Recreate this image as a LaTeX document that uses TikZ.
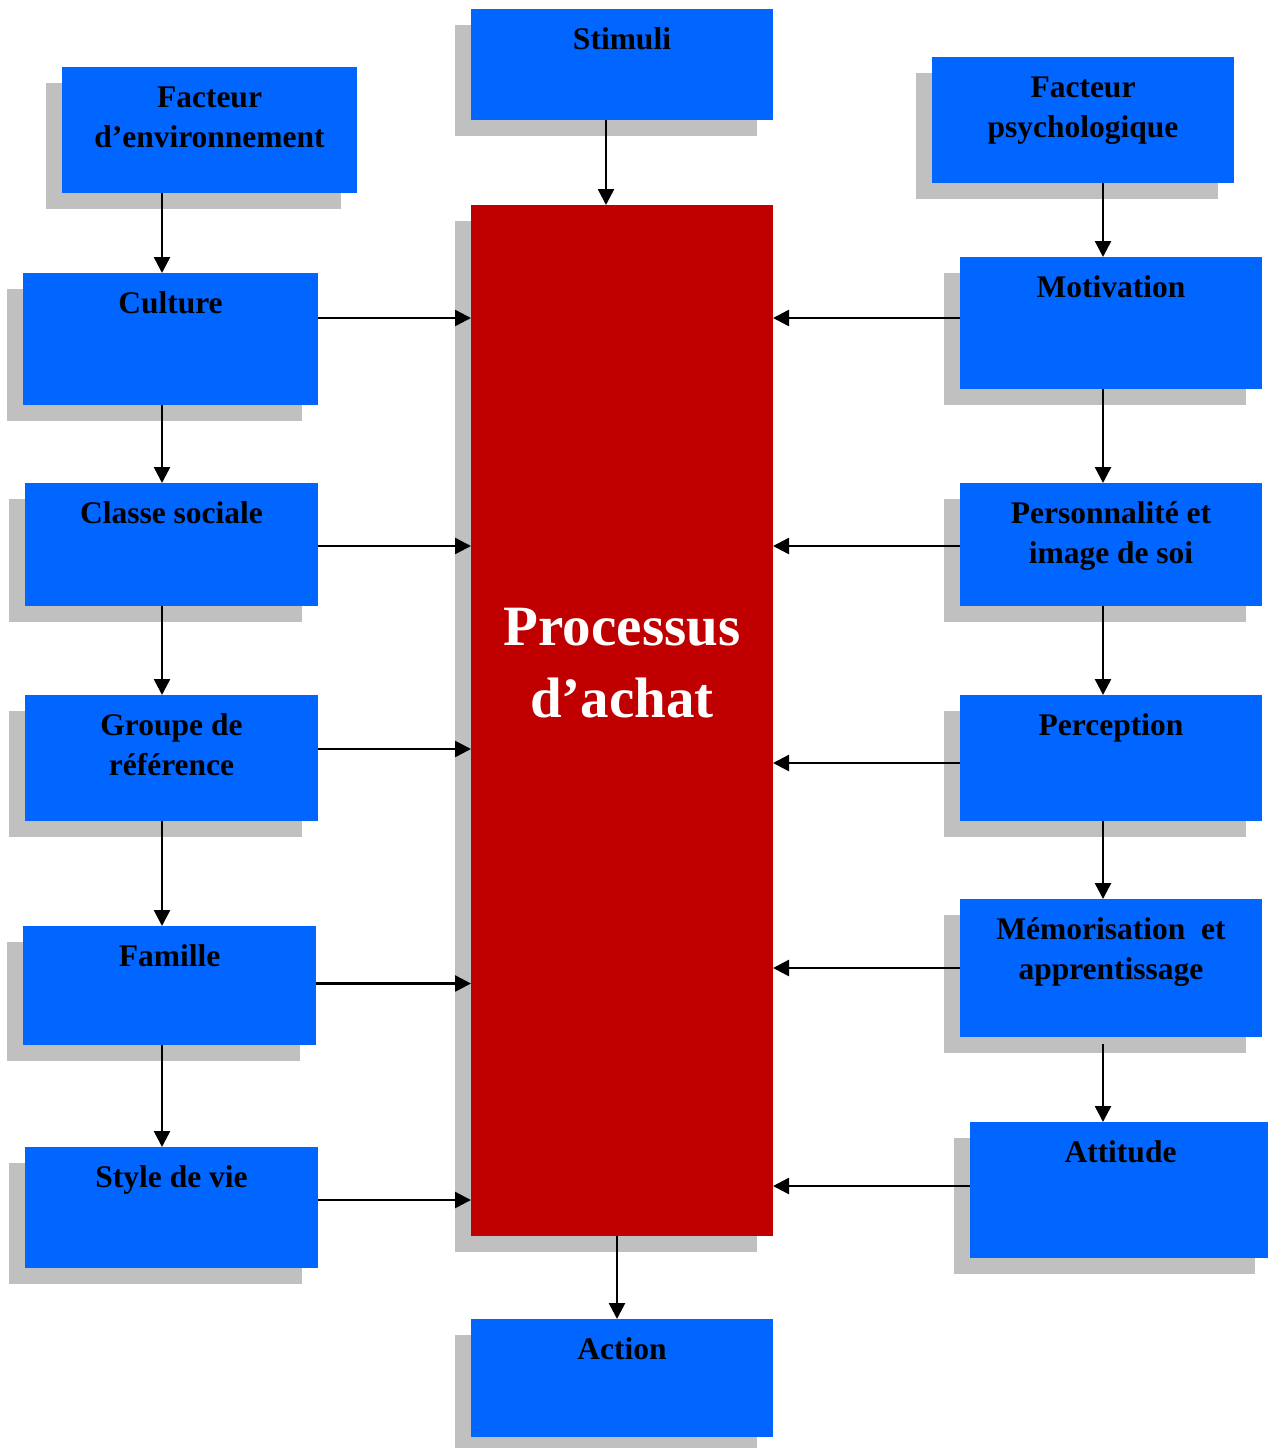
\documentclass[tikz,border=0pt]{standalone}
\usepackage{fontspec}
\setmainfont{Liberation Serif}
\usetikzlibrary{arrows.meta,shadows}

\definecolor{boxblue}{RGB}{0,102,255}
\definecolor{procred}{RGB}{192,0,0}
\definecolor{shadowgray}{RGB}{192,192,192}
\newcommand{\firstlinestrut}{\rule{0pt}{24pt}}
\newcommand{\bigstrut}{\rule{0pt}{44pt}}

\tikzset{
  factorbox/.style={rectangle, inner sep=0pt, outer sep=0pt, fill=boxblue,
    drop shadow={shadow xshift=-16pt, shadow yshift=-16pt, fill=shadowgray, opacity=1}},
  procbox/.style={factorbox, fill=procred},
  lbl/.style={anchor=north, inner sep=0pt, outer sep=0pt, align=center,
    font=\fontsize{31.5}{40}\selectfont\bfseries, text=black},
  biglbl/.style={anchor=north, inner sep=0pt, outer sep=0pt, align=center,
    font=\fontsize{57}{72}\selectfont\bfseries, text=white},
  arr/.style={line width=2.5pt, -{Triangle[length=16pt,width=16pt]}},
}

\begin{document}
\begin{tikzpicture}[x=1pt, y=-1pt]
\useasboundingbox (0,0) rectangle (1268,1448);

% central column
\node[factorbox, minimum width=302pt, minimum height=111pt]  (stim) at (622,64.5) {};
\node[procbox,   minimum width=302pt, minimum height=1031pt] (proc) at (622,720.5) {};
\node[factorbox, minimum width=302pt, minimum height=118pt]  (act)  at (622,1378) {};

% left column: environment factors
\node[factorbox, minimum width=295pt, minimum height=126pt] (env) at (209.5,130) {};
\node[factorbox, minimum width=295pt, minimum height=132pt] (cul) at (170.5,339) {};
\node[factorbox, minimum width=293pt, minimum height=123pt] (cls) at (171.5,544.5) {};
\node[factorbox, minimum width=293pt, minimum height=126pt] (grp) at (171.5,758) {};
\node[factorbox, minimum width=293pt, minimum height=119pt] (fam) at (169.5,985.5) {};
\node[factorbox, minimum width=293pt, minimum height=121pt] (sty) at (171.5,1207.5) {};

% right column: psychological factors
\node[factorbox, minimum width=302pt, minimum height=126pt] (psy)  at (1083,120) {};
\node[factorbox, minimum width=302pt, minimum height=132pt] (mot)  at (1111,323) {};
\node[factorbox, minimum width=302pt, minimum height=123pt] (pers) at (1111,544.5) {};
\node[factorbox, minimum width=302pt, minimum height=126pt] (perc) at (1111,758) {};
\node[factorbox, minimum width=302pt, minimum height=138pt] (memo) at (1111,968) {};
\node[factorbox, minimum width=301pt, minimum height=136pt] (att)  at (1120.5,1190) {};

% labels, first baseline 40pt below the top of each box
\node[lbl] (stim-t) at ([yshift=-16pt]stim.north) {\firstlinestrut Stimuli};
\node[lbl] (act-t)  at ([yshift=-16pt]act.north)  {\firstlinestrut Action};
\node[lbl] (env-t)  at ([yshift=-16pt]env.north)  {\firstlinestrut Facteur\\d’environnement};
\node[lbl] (cul-t)  at ([yshift=-16pt]cul.north)  {\firstlinestrut Culture};
\node[lbl] (cls-t)  at ([yshift=-16pt]cls.north)  {\firstlinestrut Classe sociale};
\node[lbl] (grp-t)  at ([yshift=-16pt]grp.north)  {\firstlinestrut Groupe de\\référence};
\node[lbl] (fam-t)  at ([yshift=-16pt]fam.north)  {\firstlinestrut Famille};
\node[lbl] (sty-t)  at ([yshift=-16pt]sty.north)  {\firstlinestrut Style de vie};
\node[lbl] (psy-t)  at ([yshift=-16pt]psy.north)  {\firstlinestrut Facteur\\psychologique};
\node[lbl] (mot-t)  at ([yshift=-16pt]mot.north)  {\firstlinestrut Motivation};
\node[lbl] (pers-t) at ([yshift=-16pt]pers.north) {\firstlinestrut Personnalité et\\image de soi};
\node[lbl] (perc-t) at ([yshift=-16pt]perc.north) {\firstlinestrut Perception};
\node[lbl] (memo-t) at ([yshift=-16pt]memo.north) {\firstlinestrut Mémorisation\ \ et\\apprentissage};
\node[lbl] (att-t)  at ([yshift=-16pt]att.north)  {\firstlinestrut Attitude};
\node[biglbl] (proc-t) at ([yshift=-396pt]proc.north) {\bigstrut Processus\\d’achat};

% vertical flow
\draw[arr] (606,0 |- stim.south) -- (606,0 |- proc.north);
\draw[arr] (617,0 |- proc.south) -- (617,0 |- act.north);

\draw[arr] (162,0 |- env.south) -- (162,0 |- cul.north);
\draw[arr] (162,0 |- cul.south) -- (162,0 |- cls.north);
\draw[arr] (162,0 |- cls.south) -- (162,0 |- grp.north);
\draw[arr] (162,0 |- grp.south) -- (162,0 |- fam.north);
\draw[arr] (162,0 |- fam.south) -- (162,0 |- sty.north);

\draw[arr] (1103,0 |- psy.south)  -- (1103,0 |- mot.north);
\draw[arr] (1103,0 |- mot.south)  -- (1103,0 |- pers.north);
\draw[arr] (1103,0 |- pers.south) -- (1103,0 |- perc.north);
\draw[arr] (1103,0 |- perc.south) -- (1103,0 |- memo.north);
\draw[arr] (1103,0 |- memo.south) ++(0,7) -- (1103,0 |- att.north);

% influences on the buying process
\draw[arr] (cul.east |- 0,318)    -- (proc.west |- 0,318);
\draw[arr] (cls.east |- 0,546)    -- (proc.west |- 0,546);
\draw[arr] (grp.east |- 0,749)    -- (proc.west |- 0,749);
\draw[arr] (fam.east |- 0,983.5)  -- (proc.west |- 0,983.5);
\draw[arr] (sty.east |- 0,1200)   -- (proc.west |- 0,1200);

\draw[arr] (mot.west  |- 0,318)  -- (proc.east |- 0,318);
\draw[arr] (pers.west |- 0,546)  -- (proc.east |- 0,546);
\draw[arr] (perc.west |- 0,763)  -- (proc.east |- 0,763);
\draw[arr] (memo.west |- 0,968)  -- (proc.east |- 0,968);
\draw[arr] (att.west  |- 0,1186) -- (proc.east |- 0,1186);
\end{tikzpicture}
\end{document}
